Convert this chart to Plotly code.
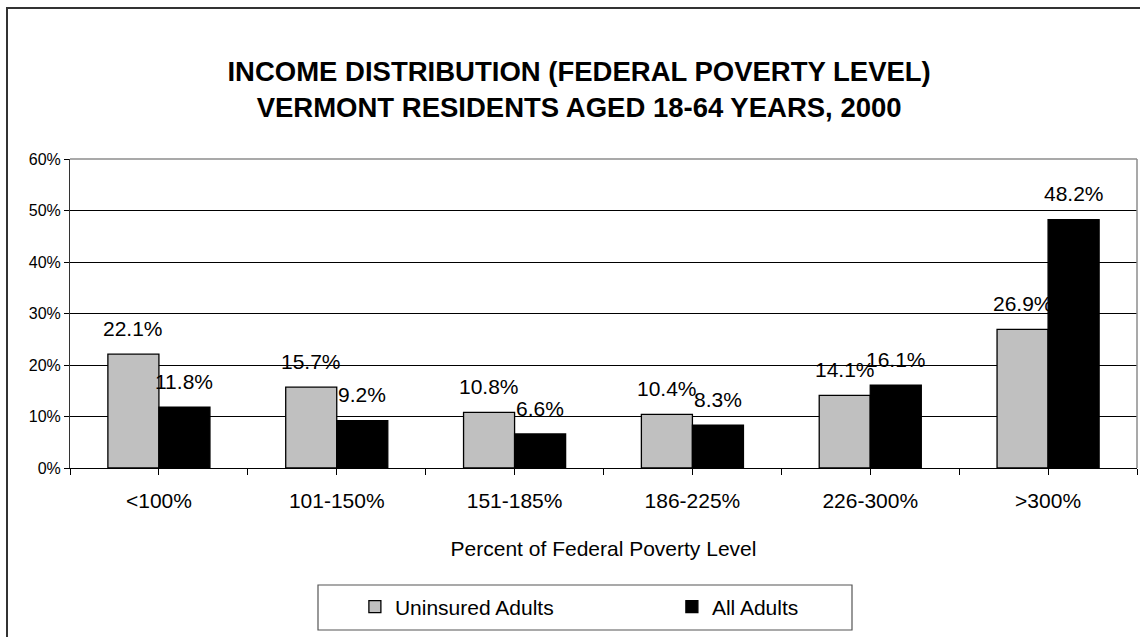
import plotly.graph_objects as go

categories = ['<100%', '101-150%', '151-185%', '186-225%', '226-300%', '>300%']
uninsured = [22.1, 15.7, 10.8, 10.4, 14.1, 26.9]
all_adults = [11.8, 9.2, 6.6, 8.3, 16.1, 48.2]

FONT = 'Arial, Liberation Sans, sans-serif'
bw = 0.287
xpos = list(range(len(categories)))

fig = go.Figure()
fig.add_trace(go.Bar(x=xpos, y=uninsured, name='Uninsured Adults', width=bw, offset=-bw,
                     marker=dict(color='#c0c0c0', line=dict(color='black', width=1.3))))
fig.add_trace(go.Bar(x=xpos, y=all_adults, name='All Adults', width=bw, offset=0,
                     marker=dict(color='black', line=dict(color='black', width=1.3))))

# data labels, Excel style (floating above the bars)
for i in xpos:
    fig.add_annotation(x=i - bw / 2, y=uninsured[i], text=f'{uninsured[i]:.1f}%', showarrow=False,
                       yanchor='middle', yshift=26, font=dict(size=21, color='black'))
    fig.add_annotation(x=i + bw / 2, y=all_adults[i], text=f'{all_adults[i]:.1f}%', showarrow=False,
                       yanchor='middle', yshift=26, font=dict(size=21, color='black'))

fig.update_layout(
    width=1140, height=637,
    barmode='overlay',
    plot_bgcolor='white', paper_bgcolor='white',
    font=dict(family=FONT, color='black'),
    margin=dict(l=70, r=3, t=159, b=169),
    title=dict(text='<b>INCOME DISTRIBUTION (FEDERAL POVERTY LEVEL)<br>VERMONT RESIDENTS AGED 18-64 YEARS, 2000</b>',
               x=0.508, xanchor='center', y=1 - 81 / 637, yanchor='middle', yref='container',
               font=dict(size=27.5, color='black')),
    showlegend=True,
    legend=dict(orientation='h', x=0.267, xanchor='left', y=-0.45, yanchor='middle',
                font=dict(size=21), entrywidth=272, bgcolor='rgba(0,0,0,0)', borderwidth=0),
    xaxis=dict(range=[-0.5, 5.5], tickmode='array', tickvals=xpos, ticktext=categories,
               ticks='outside', ticklen=6, tickcolor='black', showline=True, linecolor='black',
               linewidth=1, showgrid=False, zeroline=False, ticklabelstandoff=8,
               tickfont=dict(size=21),
               minor=dict(ticks='outside', dtick=0.5, tick0=0.5, ticklen=6, tickcolor='black', showgrid=False),
               title=dict(text='Percent of Federal Poverty Level', font=dict(size=21), standoff=30)),
    yaxis=dict(range=[0, 60], dtick=10, ticksuffix='%', ticks='outside', ticklen=5, tickcolor='black',
               showline=True, linecolor='#333333', linewidth=1, showgrid=True, gridcolor='black',
               gridwidth=1, zeroline=False, tickfont=dict(size=16)),
    shapes=[
        # plot area border (top/right)
        dict(type='line', xref='paper', yref='paper', x0=0, x1=1, y0=1, y1=1,
             line=dict(color='#8c8c8c', width=1.5)),
        dict(type='line', xref='paper', yref='paper', x0=1, x1=1, y0=0, y1=1,
             line=dict(color='#8c8c8c', width=1.5)),
        # outer chart frame
        dict(type='rect', xref='paper', yref='paper', x0=(7 - 70) / 1067, x1=1.2,
             y0=-1.0, y1=(468 - 8) / 309, line=dict(color='#333333', width=2)),
        # legend box
        dict(type='rect', xref='paper', yref='paper', x0=(318 - 70) / 1067, x1=(852 - 70) / 1067,
             y0=(468 - 630) / 309, y1=(468 - 585) / 309, line=dict(color='#555555', width=1.2)),
    ],
)

fig.write_html('out.html', config={'displayModeBar': False},
               post_script="document.body.style.margin='0';")
